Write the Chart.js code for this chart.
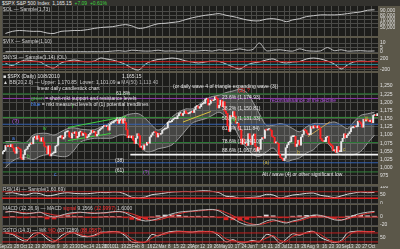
<!DOCTYPE html>
<html><head><meta charset="utf-8">
<script src="https://cdn.jsdelivr.net/npm/chart.js@4.4.1/dist/chart.umd.min.js"></script>
<style>
html,body{margin:0;padding:0;background:#5b5749;width:400px;height:249px;overflow:hidden;font-family:"Liberation Sans",Arial,sans-serif;}
canvas{position:absolute;left:0;}
.t{position:absolute;font-size:5px;line-height:5px;color:#e6e6e6;white-space:nowrap;}
.strip{position:absolute;left:0;top:0;width:400px;height:6px;background:#33322e;}
</style></head><body>
<div class="strip"></div>
<canvas id="cA" width="400" height="30" style="top:6px"></canvas>
<canvas id="cB" width="400" height="15" style="top:38px"></canvas>
<canvas id="cC" width="400" height="17" style="top:54px"></canvas>
<canvas id="cM" width="400" height="111" style="top:73px"></canvas>
<canvas id="cR" width="400" height="18" style="top:186px"></canvas>
<canvas id="cD" width="400" height="21" style="top:205px"></canvas>
<canvas id="cS" width="400" height="22" style="top:227px"></canvas>

<div class="t" style="left:2px;top:0.5px;">$SPX S&amp;P 500 Index &nbsp;1,165.15 &nbsp;<span style="color:#3cd33c">+7.09 &nbsp;+0.61%</span></div>
<div class="t" style="left:3px;top:7px;color:#d0d0d0">$OL — Sample(1,73)</div>
<div class="t" style="left:3px;top:38.5px;color:#d0d0d0">$VIX — Sample(1,10)</div>
<div class="t" style="left:3px;top:54.5px;color:#d0d0d0">$NYSI — Sample(1,14) (OL)</div>
<div class="t" style="left:3px;top:74px;">■ $SPX (Daily) 10/8/2010</div>
<div class="t" style="left:3px;top:79.5px;color:#cfcfcf">▲ BB(20,2.0) — Upper: 1,170.85 &nbsp;Lower: 1,101.09 <span style="color:#b0b0b0">■ MA(50) 1,113.40</span></div>
<div class="t" style="left:122px;top:74px;">1,165.15</div>
<div class="t" style="left:37px;top:86px;background:#1d1d1b;">linear daily candlestick chart</div>
<div class="t" style="left:31px;top:96px;"><span style="color:#3fcf3f">green</span> = short-mkt support and resistance levels</div>
<div class="t" style="left:31px;top:102px;"><span style="color:#4f8fff">blue</span> = mkt measured levels of (1) potential trendlines</div>
<div class="t" style="left:12px;top:119px;color:#b050e0;font-size:6px">(?)</div>
<div class="t" style="left:116px;top:91px;">61.8%</div>
<div class="t" style="left:116px;top:117px;">50%</div>
<div class="t" style="left:115px;top:158px;">(38)</div>
<div class="t" style="left:115px;top:168px;">(61)</div>
<div class="t" style="left:143px;top:170px;color:#b050e0">(?)</div>
<div class="t" style="left:173px;top:84px;">(or daily wave 4 of triangle expanding wave (3))</div>
<div class="t" style="left:238px;top:88px;color:#ff3030;font-size:6px">(2)</div>
<div class="t" style="left:247px;top:88px;color:#ff3030">?</div>
<div class="t" style="left:270px;top:98px;color:#b050e0">reconnaissance of the decline</div>
<div class="t" style="left:222px;top:95px;">23.6% (1,174.93)</div>
<div class="t" style="left:222px;top:106px;">38.2% (1,150.81)</div>
<div class="t" style="left:222px;top:116px;">50.0% (1,131.33)</div>
<div class="t" style="left:222px;top:126px;">61.8% (1,111.84)</div>
<div class="t" style="left:222px;top:139px;">78.6% (1,084.10)</div>
<div class="t" style="left:222px;top:148px;">88.6% (1,067.60)</div>
<div class="t" style="left:262px;top:172px;">Alt / wave (4) or other significant low</div>
<div class="t" style="left:43px;top:126px;color:#3fcf3f">iv</div>
<div class="t" style="left:27px;top:154px;color:#3fcf3f">b</div>
<div class="t" style="left:54px;top:172px;color:#4f8fff">c</div>
<div class="t" style="left:12px;top:136px;color:#4f8fff">a</div>
<div class="t" style="left:72px;top:104px;color:#3fcf3f">i</div>
<div class="t" style="left:231px;top:118px;color:#3fcf3f">(4)</div>
<div class="t" style="left:263px;top:160px;color:#c8b040">(a)</div>
<div class="t" style="left:297px;top:150px;color:#c8b040">b</div>
<div class="t" style="left:343px;top:147px;color:#c8b040">c</div>
<div class="t" style="left:365px;top:116px;color:#c8b040">iii</div>
<div class="t" style="left:3px;top:186.5px;color:#d0d0d0">RSI(14) — Sample(1,60.69)</div>
<div class="t" style="left:3px;top:205.5px;color:#d0d0d0">MACD (12,26,9) — MACD <span style="color:#ff3030">signal</span> 9.1566 <span style="color:#ff3030">(12.9997)</span> 1.6000</div>
<div class="t" style="left:3px;top:227.5px;color:#d0d0d0">SSTO (14,3) — %K <span style="color:#ff3030">%D</span> (87.7289) <span style="color:#ff3030">(88.0587)</span></div>

<script>
// ---------- DATA ----------
const weekLabels = ["Sep","21","28","Oct","12","19","26","Nov","9","16","23","30","Dec","14","21","28","2010","11","19","25","Feb","8","16","22","Mar","8","15","22","29","Apr","12","19","26","May","10","17","24","Jun","7","14","21","28","Jul","12","19","26","Aug","9","16","23","30","Sep","13","20","27","Oct"];
const firstOpen = 1042;
const weeklyCloses = [
 [1049,1053,1068,1065,1068],[1064,1071,1061,1050,1044],[1062,1060,1057,1029,1025],[1040,1054,1057,1065,1071],
 [1076,1073,1092,1096,1087],[1098,1091,1081,1092,1079],[1066,1063,1043,1067,1036],[1042,1045,1046,1066,1069],
 [1093,1093,1098,1088,1093],[1109,1110,1110,1094,1091],[1106,1105,1110,1091],[1096,1109,1110,1099,1105],
 [1104,1091,1095,1102,1106],[1114,1108,1110,1097,1102],[1114,1118,1121,1126],[1127,1126,1126,1115],
 [1133,1137,1137,1142,1145],[1147,1136,1146,1148,1136],[1150,1138,1116,1092],[1097,1092,1097,1084,1074],
 [1090,1104,1098,1063,1066],[1056,1070,1069,1078,1075],[1094,1100,1107,1109],[1108,1094,1105,1102,1105],
 [1115,1118,1119,1122,1139],[1139,1141,1146,1150,1150],[1150,1159,1166,1166,1160],[1166,1174,1167,1165,1167],
 [1170,1173,1169,1178],[1187,1189,1182,1187,1194],[1197,1197,1210,1211,1192],[1197,1207,1205,1208,1217],
 [1212,1183,1191,1207,1187],[1202,1173,1166,1128,1111],[1160,1156,1172,1158,1136],[1136,1121,1116,1072,1088],
 [1074,1074,1068,1104,1089],[1071,1098,1103,1065],[1051,1062,1056,1087,1092],[1090,1116,1115,1117,1118],
 [1114,1096,1093,1076,1077],[1074,1041,1031,1028,1022],[1029,1061,1070,1078],[1079,1095,1095,1096,1065],
 [1072,1084,1069,1094,1102],[1115,1114,1106,1101,1102],[1126,1121,1128,1126,1122],[1128,1122,1089,1083,1080],
 [1080,1093,1095,1075,1071],[1067,1052,1055,1047,1065],[1049,1049,1080,1090,1104],[1092,1099,1104,1110],
 [1122,1122,1126,1125,1126],[1142,1140,1134,1124,1148],[1143,1147,1145,1141,1146],[1138,1160,1160,1159,1166]
];
const bbUpper = [1080,1080,1078,1078,1100,1105,1105,1100,1110,1120,1122,1118,1116,1116,1124,1130,1143,1150,1160,1165,1165,1150,1130,1115,1130,1155,1170,1180,1180,1192,1208,1218,1222,1230,1235,1240,1230,1200,1165,1130,1130,1135,1130,1120,1110,1125,1135,1135,1135,1140,1130,1120,1140,1160,1165,1170];
const bbLower = [1000,1020,1030,1030,1025,1035,1040,1038,1034,1036,1054,1078,1086,1090,1090,1090,1091,1100,1100,1090,1070,1050,1050,1058,1062,1070,1090,1115,1136,1144,1150,1160,1170,1155,1130,1090,1060,1040,1035,1048,1060,1035,1020,1024,1030,1045,1055,1075,1075,1050,1040,1040,1040,1050,1075,1100];
const olLine = [37000,42000,44000,43000,42000,42000,38000,37000,42000,43000,44000,44000,46000,49000,51000,52000,53000,56000,58000,55000,49000,51000,56000,60000,61000,63000,65000,70000,74000,77000,80000,82000,84000,80000,77000,73000,69000,67000,67000,71000,72000,69000,65000,69000,72000,77000,79000,81000,81000,81000,82000,84000,86000,88000,92000,93000];
const vixLine = [0.3,0.4,0.3,0.5,0.3,0.4,0.6,0.4,0.3,0.4,0.3,0.4,0.3,0.4,0.3,0.4,1,1.5,0.8,2,1.5,1,1.2,2,1,1.3,0.8,1.5,1,1.2,1.8,1,2.5,1.5,2,3.5,2,3,10,1.5,2,2.5,1.5,1,3.5,1.5,1,1.2,5,1.5,2.5,1,1.2,1.5,1,1.2];
const nysiLine = [40,-40,89,162,125,89,-57,-130,52,125,162,125,89,125,234,198,162,89,0,-130,-202,16,125,180,198,234,198,125,89,52,89,125,107,16,-93,-166,-20,52,89,162,198,89,52,89,107,198,234,198,125,16,-166,-20,89,125,107,125];
const rsiLine = [60,64,55,50,62,58,45,50,60,64,60,58,58,62,66,64,68,67,55,36,32,38,52,56,62,68,70,72,70,74,76,72,64,42,40,30,34,36,40,54,50,32,40,50,54,60,62,48,42,34,44,55,62,68,64,66];
const macdLine = [12,14,10,8,10,12,4,0,4,9,11,12,10,9,10,11,13,14,10,2,-6,-10,-8,-4,2,8,12,14,15,17,18,19,15,4,-4,-14,-20,-20,-18,-10,-7,-12,-15,-10,-6,0,5,4,-1,-7,-8,-3,4,9,12,14];
const macdSignal = [13,13,12,10,10,11,9,5,4,6,9,11,11,10,10,10,12,13,12,8,2,-5,-8,-7,-3,3,8,12,14,15,17,18,17,11,3,-6,-14,-18,-19,-15,-10,-10,-13,-12,-9,-4,1,3,1,-4,-7,-5,0,5,9,12];
const macdHist = [-1,1,-2,-2,0,1,-5,-5,0,3,2,1,-1,-1,0,1,1,1,-2,-6,-8,-5,0,3,5,5,4,2,1,2,1,1,-2,-7,-7,-8,-6,-2,1,5,3,-2,-2,2,3,4,4,1,-2,-3,-1,2,4,4,3,2];
const stoK = [80,70,40,25,75,80,40,20,60,85,80,60,55,65,85,85,90,85,60,20,15,20,70,60,80,90,92,88,85,92,90,88,60,20,35,12,20,30,20,70,55,10,40,75,65,85,90,50,30,15,30,80,90,92,88,90];
const stoD = [82,75,55,35,55,78,60,30,40,72,82,70,58,60,75,85,88,88,72,40,20,18,45,65,72,85,90,90,87,88,90,89,75,40,28,22,18,25,25,45,62,30,25,58,70,78,88,70,40,22,22,55,85,90,90,89];
const priceTicks = [975,1000,1025,1050,1075,1100,1125,1150,1175,1200,1225,1250];
const olTicks = [50000,60000,70000,80000,90000];
const vixTicks = [0,5,10];
const nysiTicks = [200,-200];
const rsiTicks = [0,50,100];
const macdTicks = [0,-20];
const stoTicks = [50];
const levelPrices = [1226,1212,1154,1133,1077,1040,1015,987];
const levelFromDay = [0,0,0,0,0,92,0,0];
const trendLines = [
 [[47,1123],[89,1157]],
 [[47,1083],[78,1105]],
 [[130,1140],[150,1172]],
 [[220,1095],[236,1141]]
];
// ---------- STYLES ----------
const levelColors = ['#2a7f33','#8a3aa6','#35923a','#3562b0','#2a7a36','#f2f2f2','#3562b0','#32823a'];
const levelWidths = [1,1,1,1,1,1.6,1,1];
const trendColors = ['#3fcf3f','#3fcf3f','#d8c040','#c8a050'];
const GRID = '#4b4b48', PANEL = '#1d1d1b', FONT = {family:'Liberation Sans', size:5};

// ---------- BUILD ----------
const closes = weeklyCloses.flat();
const weekStart = []; let n = 0;
weeklyCloses.forEach(w => { weekStart.push(n); n += w.length; });
const weekMid = weeklyCloses.map((w,i) => weekStart[i] + (w.length-1)/2);
const xMin = -0.5, xMax = closes.length - 0.5;
const pts = arr => arr.map((v,i) => ({x: weekMid[i], y: v}));
const hline = (v, from) => [{x: from, y: v}, {x: xMax, y: v}];
const candles = closes.map((c,i) => ({x: i, y: [i ? closes[i-1] : firstOpen, c]}));

const bgPlugin = {id:'bg', beforeDraw(c){const a=c.chartArea, x=c.ctx; x.save(); x.fillStyle=PANEL; x.fillRect(a.left,a.top,a.right-a.left,a.bottom-a.top); x.restore();}};

function opts(yMin, yMax, yTicks, fmt, showX){
  return {
    responsive:false, animation:false, devicePixelRatio:1,
    layout:{padding:{left:2,right:0,top:0,bottom:0}},
    plugins:{legend:{display:false}, tooltip:{enabled:false}},
    elements:{point:{radius:0}, line:{borderWidth:1, tension:0.3}},
    scales:{
      x:{type:'linear', min:xMin, max:xMax, offset:false,
         grid:{color:GRID, lineWidth:1, drawTicks:false, offset:false}, border:{display:false},
         afterBuildTicks:s => { s.ticks = weekStart.map(v => ({value:v})); },
         ticks:{display:showX, color:'#e0e0e0', font:{family:'Liberation Sans', size:4.5}, padding:0, maxRotation:0, minRotation:0, autoSkip:false,
                callback:(v,i) => weekLabels[i]},
         afterFit:s => { s.height = showX ? 5 : 0; s.paddingLeft = 0; s.paddingRight = 0; }},
      y:{position:'right', min:yMin, max:yMax,
         grid:{color:GRID, lineWidth:1, drawTicks:false}, border:{display:false},
         afterBuildTicks:s => { s.ticks = yTicks.map(v => ({value:v})); },
         ticks:{color:'#e0e0e0', font:FONT, padding:2, autoSkip:false, callback:fmt},
         afterFit:s => { s.width = 22; s.paddingTop = 0; s.paddingBottom = 0; }}
    }
  };
}
const comma = v => v.toLocaleString('en-US');
const lineDs = (data, color, w) => ({type:'line', data, borderColor:color, borderWidth:w||1, fill:false, pointRadius:0});

// Panel A
new Chart(document.getElementById('cA'), {type:'line', plugins:[bgPlugin],
  data:{datasets:[lineDs(pts(olLine), '#c8c8c8')]},
  options:opts(31000, 102000, olTicks, comma, false)});
// Panel B
new Chart(document.getElementById('cB'), {type:'line', plugins:[bgPlugin],
  data:{datasets:[lineDs(pts(vixLine), '#bdbdbd')]},
  options:opts(-1.1, 15.6, vixTicks, v => v, false)});
// Panel C
new Chart(document.getElementById('cC'), {type:'line', plugins:[bgPlugin],
  data:{datasets:[
    lineDs(hline(100,xMin), '#d02020'), lineDs(hline(-100,xMin), '#d02020'), lineDs(hline(0,xMin), '#2a8a9a'),
    lineDs(pts(nysiLine), '#cfcfcf')]},
  options:opts(-240, 380, nysiTicks, v => v, false)});
// Main price panel
const mainDs = [
  {type:'line', data:pts(bbUpper), borderColor:'#9c9c9c', borderWidth:1, fill:false, tension:0.35, order:10},
  {type:'line', data:pts(bbLower), borderColor:'#9c9c9c', borderWidth:1, fill:'-1', backgroundColor:'rgba(165,165,165,0.30)', tension:0.35, order:10}
];
levelPrices.forEach((p,i) => mainDs.push({type:'line', data:hline(p, levelFromDay[i]), borderColor:levelColors[i], borderWidth:levelWidths[i], fill:false, order:8}));
trendLines.forEach((t,i) => mainDs.push({type:'line', data:t.map(q => ({x:q[0], y:q[1]})), borderColor:trendColors[i], borderWidth:1, fill:false, tension:0, order:6}));
mainDs.push({type:'bar', data:candles, backgroundColor:candles.map(c => c.y[1] >= c.y[0] ? '#e8e8e8' : '#ff2323'),
  barThickness:1.3, minBarLength:1, order:1});
new Chart(document.getElementById('cM'), {type:'bar', plugins:[bgPlugin],
  data:{datasets:mainDs},
  options:opts(950, 1290, priceTicks, comma, false)});
// RSI
new Chart(document.getElementById('cR'), {type:'line', plugins:[bgPlugin],
  data:{datasets:[lineDs(hline(70,xMin), '#b02020'), lineDs(hline(30,xMin), '#e02020', 1.6), lineDs(pts(rsiLine), '#d8d8d8')]},
  options:opts(-5, 105, rsiTicks, v => v, false)});
// MACD
new Chart(document.getElementById('cD'), {type:'bar', plugins:[bgPlugin],
  data:{datasets:[
    {type:'bar', data:pts(macdHist).map(p => ({x:p.x, y:[0, p.y]})), backgroundColor:macdHist.map(v => v >= 0 ? '#e0e0e0' : '#e02020'), barThickness:4, order:5},
    {...lineDs(hline(0,xMin), '#d02020'), order:4},
    {...lineDs(pts(macdSignal), '#e03030'), order:2},
    {...lineDs(pts(macdLine), '#bdbdbd'), order:1}]},
  options:opts(-22.5, 30, macdTicks, v => v, false)});
// Slow stochastic + x-axis labels
new Chart(document.getElementById('cS'), {type:'line', plugins:[bgPlugin],
  data:{datasets:[lineDs(hline(80,xMin), '#c02020'), lineDs(hline(20,xMin), '#c02020'),
    lineDs(pts(stoD), '#e03030'), lineDs(pts(stoK), '#dedede')]},
  options:opts(6, 120, stoTicks, v => v, true)});
</script>
</body></html>
